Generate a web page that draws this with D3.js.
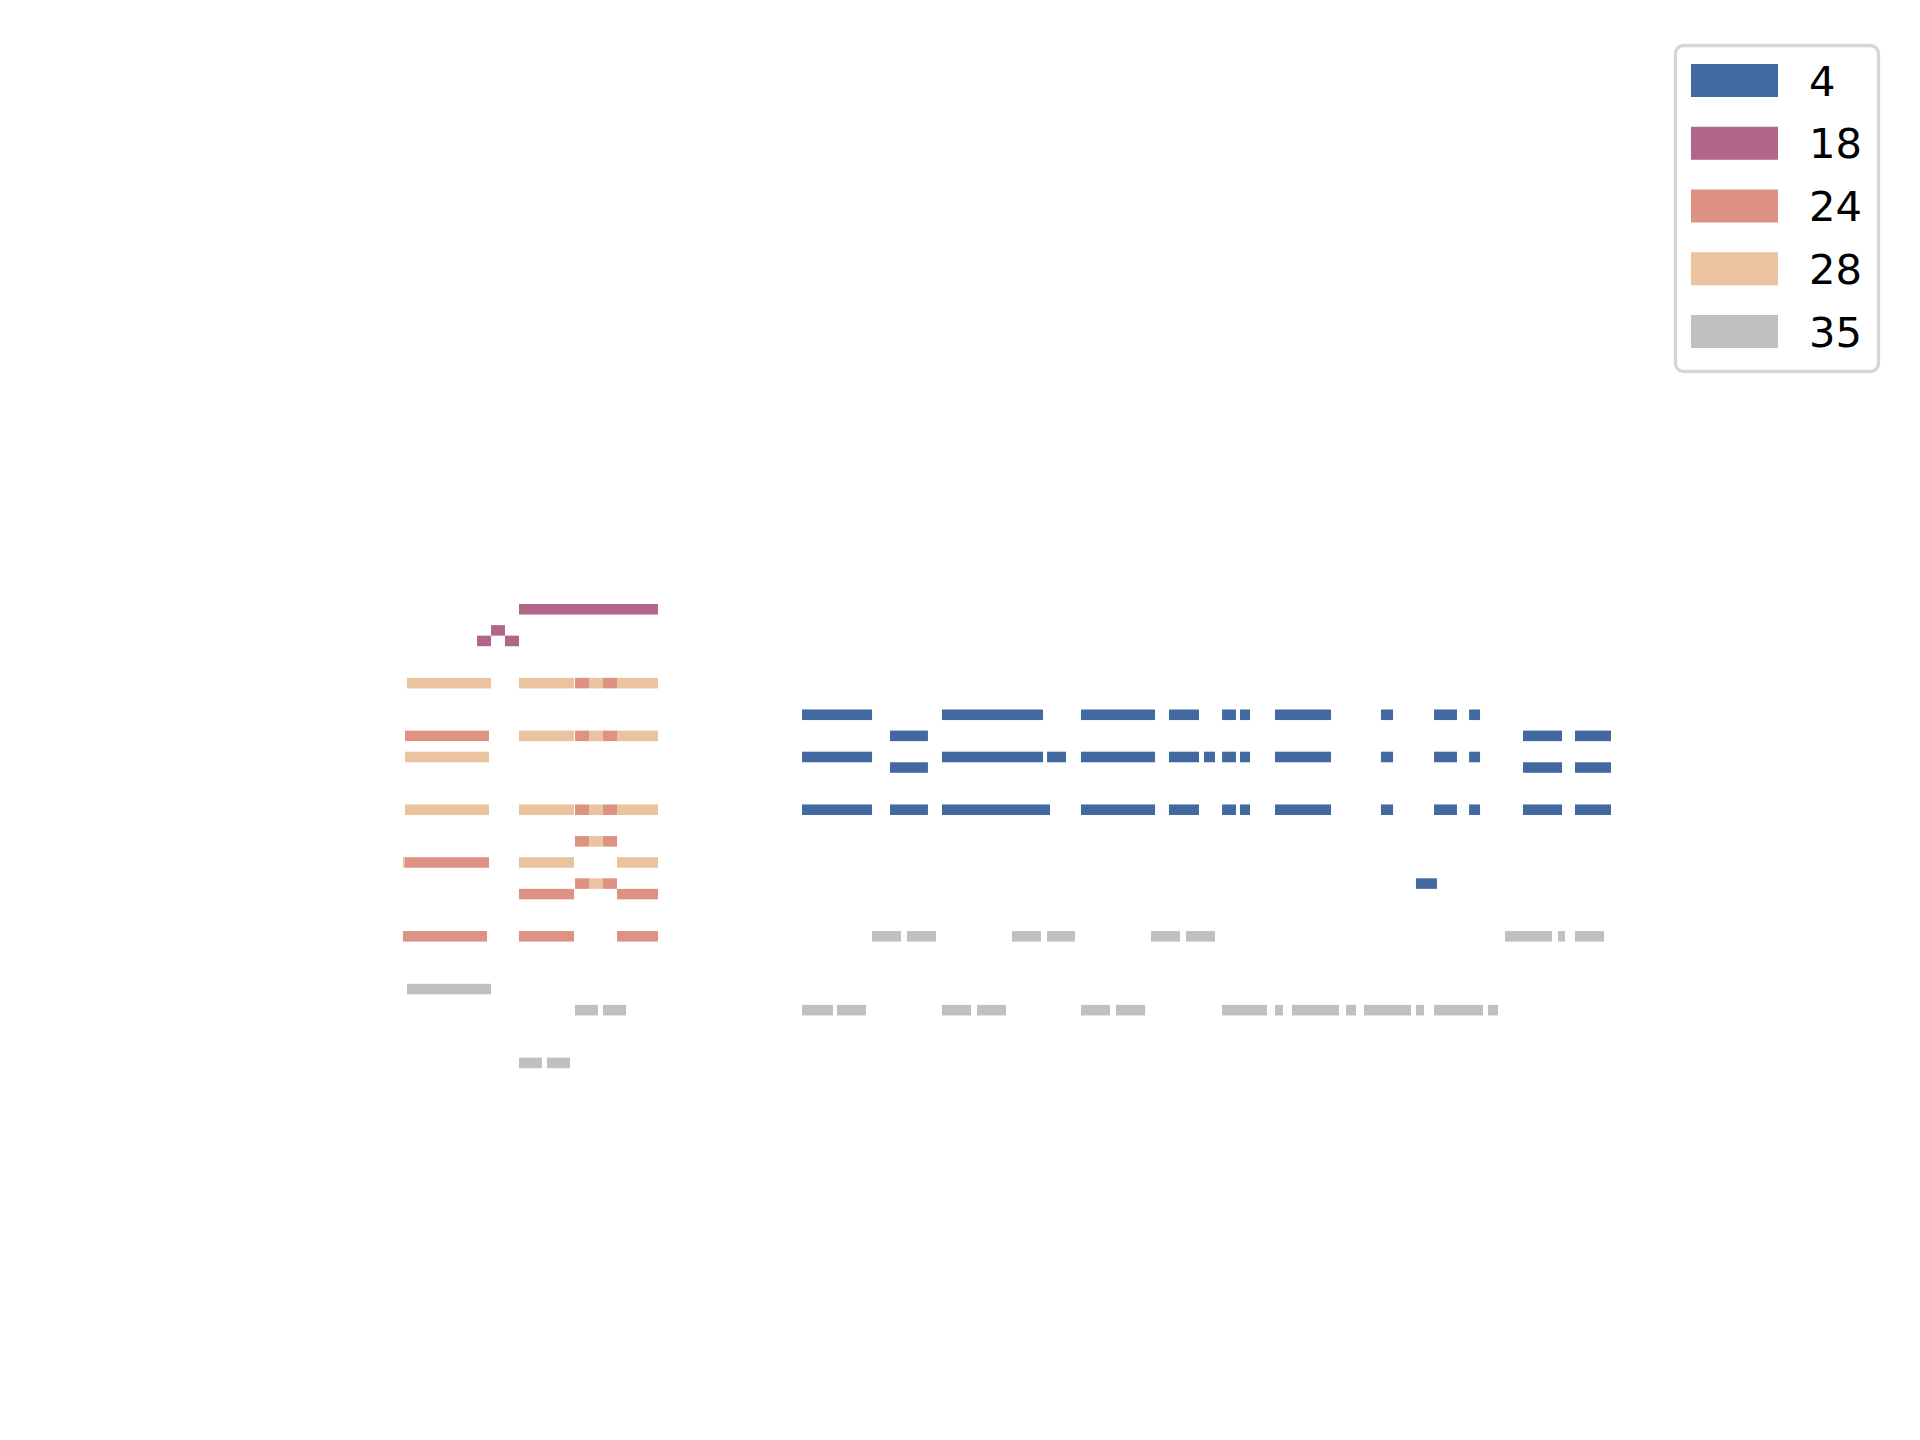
<!DOCTYPE html>
<html>
<head>
<meta charset="utf-8">
<script src="https://cdn.jsdelivr.net/npm/d3@7"></script>
<style>
  html, body { margin: 0; padding: 0; background: #ffffff; }
  svg { display: block; }
</style>
</head>
<body>
<svg id="chart" width="1920" height="1440"></svg>
<script>
// Categories and colours
const categories = ["4", "18", "24", "28", "35"];
const colors = ["#426aa0", "#b1668a", "#de9283", "#ebc39f", "#c0c0c0"];

// Segments per category: [row, start, end]
const seg4 = [
  [10, 20.36, 25.40], [10, 30.43, 37.70], [10, 40.43, 45.76], [10, 46.76, 48.92], [10, 50.58, 51.58],
  [10, 51.87, 52.59], [10, 54.39, 58.42], [10, 62.01, 62.88], [10, 65.83, 67.48], [10, 68.35, 69.14],
  [12, 26.69, 29.42], [12, 72.23, 75.04], [12, 75.97, 78.56],
  [14, 20.36, 25.40], [14, 30.43, 37.70], [14, 37.99, 39.35], [14, 40.43, 45.76], [14, 46.76, 48.92],
  [14, 49.28, 50.07], [14, 50.58, 51.58], [14, 51.87, 52.59], [14, 54.39, 58.42], [14, 62.01, 62.88],
  [14, 65.83, 67.48], [14, 68.35, 69.14],
  [15, 26.69, 29.42], [15, 72.23, 75.04], [15, 75.97, 78.56],
  [19, 20.36, 25.40], [19, 26.69, 29.42], [19, 30.43, 38.20], [19, 40.43, 45.76], [19, 46.76, 48.92],
  [19, 50.58, 51.58], [19, 51.87, 52.59], [19, 54.39, 58.42], [19, 62.01, 62.88], [19, 65.83, 67.48],
  [19, 68.35, 69.14], [19, 72.23, 75.04], [19, 75.97, 78.56],
  [26, 64.53, 66.04]
];
const seg18 = [
  [0, 0, 10], [2, -2.01, -1.01], [3, -3.02, -2.01], [3, -1.01, 0]
];
const seg24 = [
  [7, 4.03, 5.04], [7, 6.04, 7.05],
  [12, -8.20, -2.16], [12, 4.03, 5.04], [12, 6.04, 7.05],
  [19, 4.03, 5.04], [19, 6.04, 7.05],
  [22, 4.03, 5.04], [22, 6.04, 7.05],
  [24, -8.20, -2.16],
  [26, 4.03, 5.04], [26, 6.04, 7.05],
  [27, 0, 3.96], [27, 7.05, 10],
  [31, -8.35, -2.30], [31, 0, 3.96], [31, 7.05, 10]
];
const seg28 = [
  [7, -8.06, -2.01], [7, 0, 3.96], [7, 5.04, 6.04], [7, 7.05, 10],
  [12, 0, 3.96], [12, 5.04, 6.04], [12, 7.05, 10],
  [14, -8.20, -2.16],
  [19, -8.20, -2.16], [19, 0, 3.96], [19, 5.04, 6.04], [19, 7.05, 10],
  [22, 5.04, 6.04],
  [24, -8.35, -8.20], [24, 0, 3.96], [24, 7.05, 10],
  [26, 5.04, 6.04]
];
const seg35 = [
  [31, 25.40, 27.48], [31, 27.91, 30.00], [31, 35.47, 37.55], [31, 37.99, 40.00], [31, 45.47, 47.55],
  [31, 47.99, 50.07], [31, 70.94, 74.32], [31, 74.75, 75.25], [31, 75.97, 78.06],
  [36, -8.06, -2.01],
  [38, 4.03, 5.68], [38, 6.04, 7.70], [38, 20.36, 22.59], [38, 22.88, 24.96], [38, 30.43, 32.52],
  [38, 32.95, 35.04], [38, 40.43, 42.52], [38, 42.95, 45.04], [38, 50.58, 53.81], [38, 54.39, 54.96],
  [38, 55.61, 58.99], [38, 59.50, 60.22], [38, 60.79, 64.17], [38, 64.53, 65.11], [38, 65.83, 69.35],
  [38, 69.71, 70.43],
  [43, 0, 1.65], [43, 2.01, 3.67]
];
const seriesSegments = [seg4, seg18, seg24, seg28, seg35];

const svg = d3.select("#chart");

// Scales
const x = d3.scaleLinear().domain([0, 10]).range([519, 658]);
const y = d3.scaleLinear().domain([0, 43]).range([604, 604 + 43 * 10.55]);
const rowH = y(1) - y(0);
const color = d3.scaleOrdinal().domain(categories).range(colors);

const marks = svg.append("g").attr("class", "marks");
seriesSegments.forEach((segs, i) => {
  marks.append("g")
    .attr("fill", color(categories[i]))
    .selectAll("rect")
    .data(segs)
    .join("rect")
    .attr("x", d => x(d[1]))
    .attr("y", d => y(d[0]))
    .attr("width", d => x(d[2]) - x(d[1]))
    .attr("height", rowH);
});

// Legend
const legend = svg.append("g").attr("class", "legend");
legend.append("rect")
  .attr("x", 1675.5).attr("y", 45.5)
  .attr("width", 203).attr("height", 326)
  .attr("rx", 8).attr("ry", 8)
  .attr("fill", "#ffffff")
  .attr("stroke", "#d6d6d6")
  .attr("stroke-width", 3.3);

const ly = d3.scaleLinear().domain([0, 1]).range([64, 126.75]);
const items = legend.selectAll("g.item")
  .data(categories)
  .join("g")
  .attr("class", "item")
  .attr("transform", (d, i) => `translate(0,${ly(i)})`);
items.append("rect")
  .attr("x", 1691).attr("y", 0)
  .attr("width", 87).attr("height", 33)
  .attr("fill", d => color(d));
items.append("text")
  .attr("x", 1809).attr("y", 31.5)
  .attr("font-family", "DejaVu Sans")
  .attr("font-size", 41.67)
  .attr("fill", "#000000")
  .text(d => d);
</script>
</body>
</html>
